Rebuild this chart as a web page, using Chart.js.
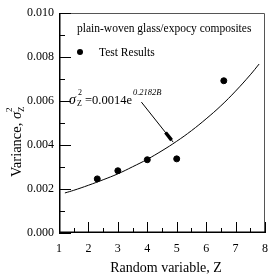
<!DOCTYPE html>
<html>
<head>
<meta charset="utf-8">
<script src="https://cdn.jsdelivr.net/npm/chart.js@4"></script>
<style>
  html, body { margin: 0; padding: 0; background: #fff; }
  #wrap { width: 277px; height: 278px; position: relative; }
</style>
</head>
<body>
<div id="wrap"><canvas id="varChart" width="277" height="278"></canvas></div>
<script>
// Test results
const testZ = [2.3, 3.0, 4.0, 5.0, 6.6];
const testVar = [0.00246, 0.00283, 0.00333, 0.00337, 0.00692];

// Fitted curve
const fitZ = [1.2, 1.5, 2.0, 2.5, 3.0, 3.5, 4.0, 4.5, 5.0, 5.5, 6.0, 6.5, 7.0, 7.5, 7.8];
const fitVar = [0.00182, 0.00194, 0.00217, 0.00242, 0.00269, 0.00301, 0.00335, 0.00374, 0.00417, 0.00465, 0.00519, 0.00578, 0.00645, 0.00719, 0.00768];

// Tick labels
const xTicks = [1, 2, 3, 4, 5, 6, 7, 8];
const yTicks = [0.000, 0.002, 0.004, 0.006, 0.008, 0.010];

const SERIF = "'Liberation Serif', 'DejaVu Serif', serif";

// Vẽ khung, vạch chia hướng vào trong, chú thích, mũi tên
const decorPlugin = {
    id: 'decor',
    afterDraw(chart) {
        const ctx = chart.ctx;
        const a = chart.chartArea;
        const xs = chart.scales.x, ys = chart.scales.y;
        ctx.save();

        // frame top/right (grey)
        ctx.strokeStyle = '#555';
        ctx.lineWidth = 1;
        ctx.beginPath();
        ctx.moveTo(a.left, a.top + 0.5);
        ctx.lineTo(a.right - 0.5, a.top + 0.5);
        ctx.lineTo(a.right - 0.5, a.bottom);
        ctx.stroke();

        // left/bottom axes (black)
        ctx.strokeStyle = '#000';
        ctx.lineWidth = 1.5;
        ctx.beginPath();
        ctx.moveTo(a.left + 0.75, a.top);
        ctx.lineTo(a.left + 0.75, a.bottom - 0.75);
        ctx.lineTo(a.right, a.bottom - 0.75);
        ctx.stroke();

        // inward ticks
        ctx.lineWidth = 1;
        ctx.beginPath();
        for (let z = 1; z <= 8.001; z += 0.5) {
            const px = Math.round(xs.getPixelForValue(z)) + 0.5;
            const major = Math.abs(z - Math.round(z)) < 0.01;
            const len = major ? 11 : 5;
            ctx.moveTo(px, a.bottom);
            ctx.lineTo(px, a.bottom - len);
        }
        for (let k = 0; k <= 10; k++) {
            const py = Math.round(ys.getPixelForValue(k * 0.001)) + 0.5;
            const len = (k % 2 === 0) ? 12 : 6;
            ctx.moveTo(a.left, py);
            ctx.lineTo(a.left + len, py);
        }
        ctx.stroke();

        // title inside the plot
        ctx.fillStyle = '#000';
        ctx.textBaseline = 'alphabetic';
        ctx.textAlign = 'left';
        ctx.font = '11.5px ' + SERIF;
        ctx.fillText('plain-woven glass/expocy composites', 77, 32);

        // legend
        ctx.beginPath();
        ctx.arc(80, 52, 3, 0, Math.PI * 2);
        ctx.fill();
        ctx.fillText('Test Results', 99, 56);

        // equation
        const base = 104;
        ctx.font = 'italic 14px ' + SERIF;
        ctx.fillText('σ', 69, base);
        ctx.font = '8px ' + SERIF;
        ctx.fillText('2', 78, base - 9);
        ctx.fillText('Z', 77, base + 2);
        ctx.font = '12.5px ' + SERIF;
        ctx.fillText('=0.0014e', 85, base);
        const ew = ctx.measureText('=0.0014e').width;
        ctx.font = 'italic 8.5px ' + SERIF;
        ctx.fillText('0.2182B', 85 + ew + 1, base - 9);

        // arrow pointing at the curve
        const x0 = xs.getPixelForValue(3.8), y0 = ys.getPixelForValue(0.00595);
        const x1 = xs.getPixelForValue(4.88), y1 = ys.getPixelForValue(0.00413);
        ctx.strokeStyle = '#000';
        ctx.lineWidth = 1;
        ctx.beginPath();
        ctx.moveTo(x0, y0);
        ctx.lineTo(x1, y1);
        ctx.stroke();
        ctx.lineWidth = 3.5;
        ctx.beginPath();
        ctx.moveTo(x0 + (x1 - x0) * 0.76, y0 + (y1 - y0) * 0.76);
        ctx.lineTo(x0 + (x1 - x0) * 0.95, y0 + (y1 - y0) * 0.95);
        ctx.stroke();

        // axis titles
        ctx.font = '14px ' + SERIF;
        ctx.textAlign = 'center';
        ctx.fillText('Random variable, Z', 166, 272);

        ctx.save();
        ctx.translate(21, 177);
        ctx.rotate(-Math.PI / 2);
        ctx.textAlign = 'left';
        ctx.font = '14.5px ' + SERIF;
        ctx.fillText('Variance, ', 0, 0);
        let w = ctx.measureText('Variance, ').width;
        ctx.font = 'italic 14.5px ' + SERIF;
        ctx.fillText('σ', w, 0);
        w += ctx.measureText('σ').width;
        ctx.font = '9px ' + SERIF;
        ctx.fillText('2', w, -9);
        ctx.fillText('Z', w, 3);
        ctx.restore();

        ctx.restore();
    }
};

const ctx = document.getElementById('varChart').getContext('2d');
const myChart = new Chart(ctx, {
    type: 'scatter',
    data: {
        datasets: [
            {
                label: 'Test Results',
                data: testZ.map((z, i) => ({ x: z, y: testVar[i] })),
                backgroundColor: '#000',
                borderColor: '#000',
                pointRadius: 3,
                pointHoverRadius: 3
            },
            {
                label: 'Fit',
                type: 'line',
                data: fitZ.map((z, i) => ({ x: z, y: fitVar[i] })),
                borderColor: '#000',
                borderWidth: 1,
                pointRadius: 0,
                fill: false,
                tension: 0.4
            }
        ]
    },
    options: {
        responsive: false,
        animation: false,
        layout: { padding: { top: 13, right: 4, left: 0, bottom: 0 } },
        plugins: {
            legend: { display: false },
            tooltip: { enabled: false }
        },
        scales: {
            x: {
                type: 'linear',
                min: 1, max: 8,
                grid: { display: false, drawTicks: false },
                border: { display: false },
                afterFit: s => { s.height = 45; },
                afterBuildTicks: s => { s.ticks = xTicks.map(v => ({ value: v })); },
                ticks: {
                    color: '#000',
                    padding: 9,
                    font: { family: SERIF, size: 12 },
                    callback: v => String(v)
                }
            },
            y: {
                type: 'linear',
                min: 0, max: 0.010,
                grid: { display: false, drawTicks: false },
                border: { display: false },
                afterFit: s => { s.width = 59; },
                afterBuildTicks: s => { s.ticks = yTicks.map(v => ({ value: v })); },
                ticks: {
                    color: '#000',
                    padding: 5,
                    font: { family: SERIF, size: 12 },
                    callback: v => Number(v).toFixed(3)
                }
            }
        }
    },
    plugins: [decorPlugin]
});
</script>
</body>
</html>
